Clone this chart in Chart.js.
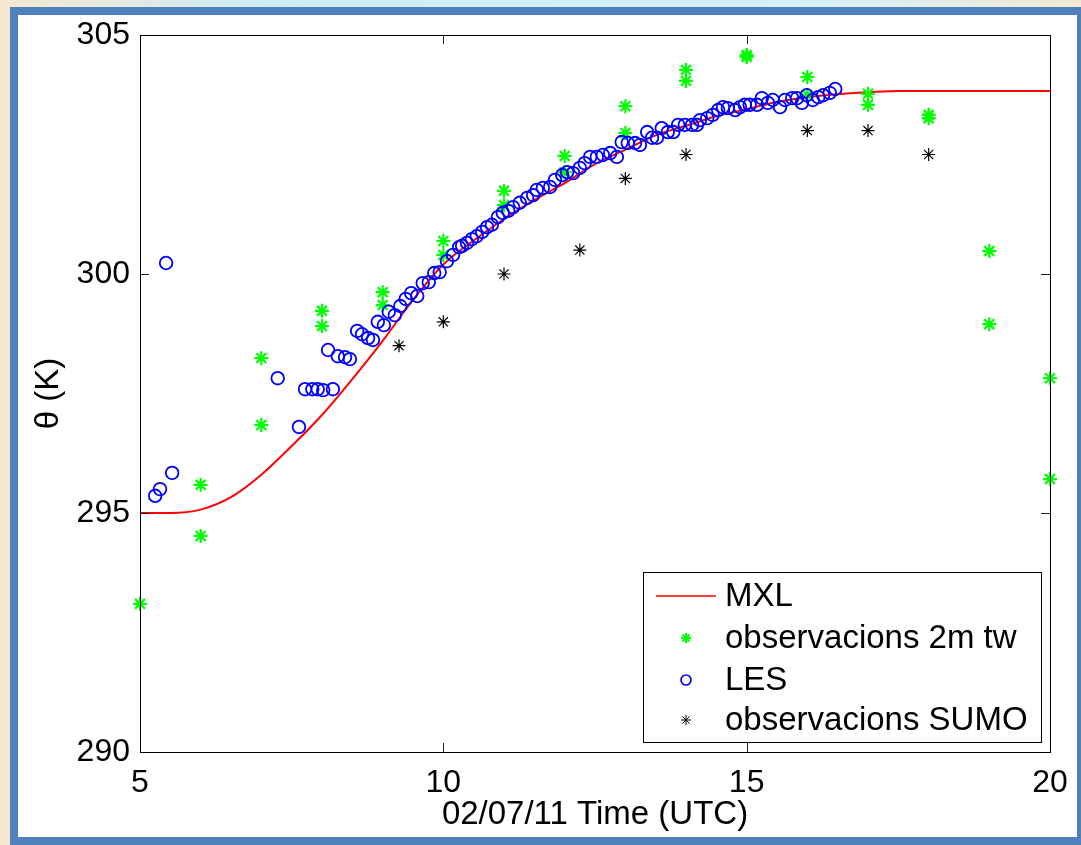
<!DOCTYPE html>
<html>
<head>
<meta charset="utf-8">
<script src="https://cdn.jsdelivr.net/npm/chart.js@4/dist/chart.umd.min.js"></script>
<style>
html, body { margin: 0; padding: 0; }
body {
  width: 1081px; height: 845px; overflow: hidden; position: relative;
  background: linear-gradient(90deg, #f6e6cf 0%, #cdeef8 25%, #d6f1f8 75%, #f2e9d3 100%);
}
#frame {
  position: absolute; left: 10px; top: 7px; width: 1059px; height: 822px;
  background: #fff; border: 8px solid #4f81bd; border-right-width: 4px;
}
#graph { position: absolute; left: 0; top: 0; }
</style>
</head>
<body>
<div id="frame"></div>
<canvas id="graph" width="1081" height="845"></canvas>
<script>
'use strict';

// MXL model (red line)
const mxlTime  = [5, 5.5, 6, 6.5, 7, 7.5, 8, 8.5, 9, 9.5, 10, 10.5, 11, 11.5, 12, 12.5, 13, 13.5, 14, 14.5, 15, 15.5, 16, 16.5, 17, 17.5, 18, 19, 20];
const mxlTheta = [295.0, 295.0, 295.07, 295.33, 295.8, 296.4, 297.05, 297.8, 298.6, 299.46, 300.2, 300.7, 301.15, 301.55, 301.9, 302.3, 302.6, 302.9, 303.1, 303.3, 303.45, 303.6, 303.7, 303.76, 303.8, 303.83, 303.83, 303.83, 303.83];

// observacions 2m tw (green stars)
const obsTime  = [5, 6, 6, 7, 7, 8, 8, 9, 9, 10, 10, 11, 11, 12, 12, 13, 13, 14, 14, 15, 15, 16, 16, 17, 17, 18, 18, 19, 19, 20, 20];
const obsTheta = [293.1, 295.59, 294.52, 298.24, 296.84, 299.23, 298.91, 299.62, 299.35, 300.69, 300.4, 301.74, 301.44, 302.47, 302.13, 303.51, 302.95, 304.27, 304.04, 304.58, 304.54, 304.12, 303.74, 303.77, 303.54, 303.33, 303.26, 300.48, 298.95, 297.82, 295.71];

// LES (blue circles)
const lesTime  = [5.25, 5.33, 5.43, 5.53, 7.27, 7.62, 7.72, 7.84, 7.93, 8.02, 8.10, 8.18, 8.26, 8.38, 8.46, 8.58, 8.66, 8.76, 8.84, 8.92, 9.02, 9.10, 9.20, 9.29, 9.38, 9.47, 9.57, 9.66, 9.76, 9.85, 9.94,
  10.06, 10.16, 10.26, 10.31, 10.39, 10.47, 10.55, 10.64, 10.72, 10.80, 10.90, 10.98, 11.07, 11.15, 11.26, 11.38, 11.48, 11.54, 11.64, 11.76, 11.84, 11.96,
  12.04, 12.14, 12.25, 12.33, 12.42, 12.53, 12.63, 12.75, 12.86, 12.94, 13.04, 13.16, 13.24, 13.36, 13.44, 13.52, 13.60, 13.70, 13.79, 13.87, 13.98,
  14.10, 14.18, 14.23, 14.35, 14.44, 14.53, 14.61, 14.69, 14.81, 14.89, 14.97, 15.05, 15.17, 15.25, 15.35, 15.43, 15.55, 15.63, 15.75, 15.83, 15.91, 15.99,
  16.09, 16.18, 16.26, 16.37, 16.46];
const lesTheta = [295.36, 295.50, 300.23, 295.84, 297.82, 296.80, 297.59, 297.59, 297.59, 297.57, 298.41, 297.59, 298.28, 298.26, 298.22, 298.81, 298.74, 298.66, 298.62, 299.00, 298.93, 299.21, 299.14, 299.33, 299.48, 299.60, 299.54, 299.81, 299.83, 300.02, 300.04,
  300.27, 300.40, 300.56, 300.59, 300.65, 300.73, 300.79, 300.88, 300.98, 301.03, 301.19, 301.28, 301.32, 301.40, 301.49, 301.59, 301.65, 301.76, 301.80, 301.82, 301.97, 302.07,
  302.13, 302.11, 302.22, 302.32, 302.45, 302.45, 302.49, 302.53, 302.45, 302.76, 302.74, 302.74, 302.70, 302.97, 302.85, 302.85, 303.05, 302.97, 302.97, 303.12, 303.12,
  303.12, 303.12, 303.22, 303.26, 303.33, 303.43, 303.49, 303.47, 303.43, 303.49, 303.54, 303.54, 303.54, 303.68, 303.58, 303.64, 303.49, 303.64, 303.68, 303.68, 303.58, 303.74,
  303.64, 303.70, 303.74, 303.79, 303.87];

// observacions SUMO (black stars)
const sumoTime  = [9.27, 10, 11, 12.25, 13, 14, 16, 17, 18];
const sumoTheta = [298.5, 299.0, 300.0, 300.5, 302.0, 302.5, 303.0, 303.0, 302.5];

const xTicks = [5, 10, 15, 20];
const yTicks = [290, 295, 300, 305];
const labels = ['MXL', 'observacions 2m tw', 'LES', 'observacions SUMO'];

const FONT = '"Liberation Sans", Arial, Helvetica, sans-serif';

function pts(xs, ys) {
    return xs.map((x, i) => ({ x: x, y: ys[i] }));
}

// box with inward ticks, like matlab axes
const boxPlugin = {
    id: 'box',
    afterDatasetsDraw(chart) {
        const ctx = chart.ctx;
        const a = chart.chartArea;
        const xs = chart.scales.x, ys = chart.scales.y;
        ctx.save();
        ctx.strokeStyle = '#222';
        ctx.lineWidth = 1;
        ctx.beginPath();
        xTicks.forEach(v => {
            const px = Math.round(xs.getPixelForValue(v)) + 0.5;
            ctx.moveTo(px, a.bottom); ctx.lineTo(px, a.bottom - 9);
            ctx.moveTo(px, a.top); ctx.lineTo(px, a.top + 9);
        });
        yTicks.forEach(v => {
            const py = Math.round(ys.getPixelForValue(v)) + 0.5;
            ctx.moveTo(a.left, py); ctx.lineTo(a.left + 9, py);
            ctx.moveTo(a.right, py); ctx.lineTo(a.right - 9, py);
        });
        ctx.stroke();
        ctx.strokeStyle = '#000';
        ctx.strokeRect(Math.round(a.left) + 0.5, Math.round(a.top) + 0.5, Math.round(a.right - a.left), Math.round(a.bottom - a.top));
        ctx.restore();
    }
};

const legendPlugin = {
    id: 'boxLegend',
    afterDraw(chart) {
        const ctx = chart.ctx;
        const bx = 643, by = 572, bw = 398, bh = 170;
        ctx.save();
        ctx.fillStyle = '#fff';
        ctx.fillRect(bx, by, bw, bh);
        ctx.strokeStyle = '#000';
        ctx.lineWidth = 1;
        ctx.strokeRect(bx + 0.5, by + 0.5, bw, bh);
        const rows = [596, 638, 680, 720];
        const order = [3, 2, 1, 0]; // dataset index for each legend row
        ctx.font = '33px ' + FONT;
        ctx.textBaseline = 'middle';
        ctx.textAlign = 'left';
        rows.forEach((ry, i) => {
            const ds = chart.data.datasets[order[i]];
            if (ds.showLine) {
                ctx.strokeStyle = ds.borderColor;
                ctx.lineWidth = 1.5;
                ctx.beginPath();
                ctx.moveTo(656, ry); ctx.lineTo(716, ry);
                ctx.stroke();
            } else {
                ctx.strokeStyle = ds.borderColor;
                ctx.fillStyle = 'rgba(0,0,0,0)';
                ctx.lineWidth = ds.legendBorder;
                Chart.helpers.drawPoint(ctx, {
                    pointStyle: ds.pointStyle, radius: ds.legendRadius, rotation: 0, borderWidth: ds.legendBorder
                }, 686, ry);
            }
            ctx.fillStyle = '#000';
            ctx.fillText(ds.label, 725, ry + 1);
        });
        ctx.restore();
    }
};

window.onload = function () {
    const context = document.querySelector('#graph').getContext('2d');
    new Chart(context, {
        type: 'scatter',
        data: {
            datasets: [{
                label: labels[3],
                data: pts(sumoTime, sumoTheta),
                pointStyle: 'star',
                pointRadius: 6.5,
                pointBorderWidth: 1.2,
                borderColor: '#000',
                backgroundColor: '#000',
                legendRadius: 5, legendBorder: 1,
                clip: false,
                order: 1
            }, {
                label: labels[2],
                data: pts(lesTime, lesTheta),
                pointStyle: 'circle',
                pointRadius: 6.3,
                pointBorderWidth: 1.8,
                borderColor: '#0000ff',
                backgroundColor: 'rgba(0,0,0,0)',
                legendRadius: 5, legendBorder: 1.7,
                clip: false,
                order: 2
            }, {
                label: labels[1],
                data: pts(obsTime, obsTheta),
                pointStyle: 'star',
                pointRadius: 7,
                pointBorderWidth: 2.2,
                borderColor: '#00ff00',
                backgroundColor: '#00ff00',
                legendRadius: 5, legendBorder: 2,
                clip: false,
                order: 3
            }, {
                label: labels[0],
                data: pts(mxlTime, mxlTheta),
                showLine: true,
                pointRadius: 0,
                borderColor: '#ff0000',
                borderWidth: 2,
                cubicInterpolationMode: 'monotone',
                order: 4
            }]
        },
        options: {
            responsive: false,
            animation: false,
            events: [],
            layout: { padding: { top: 35, right: 31, left: 0, bottom: 0 } },
            plugins: { legend: { display: false }, tooltip: { enabled: false } },
            scales: {
                x: {
                    type: 'linear', min: 5, max: 20,
                    afterBuildTicks: s => { s.ticks = xTicks.map(v => ({ value: v })); },
                    ticks: { color: '#000', font: { family: FONT, size: 32 }, padding: 4, maxRotation: 0 },
                    grid: { display: false },
                    border: { display: false },
                    title: { display: true, text: '02/07/11 Time (UTC)', color: '#000', font: { family: FONT, size: 33 }, padding: { top: 0, bottom: 10 } },
                    afterFit: s => { s.height = 93; s.paddingLeft = 0; s.paddingRight = 0; }
                },
                y: {
                    type: 'linear', min: 290, max: 305,
                    afterBuildTicks: s => { s.ticks = yTicks.map(v => ({ value: v })); },
                    ticks: { color: '#000', font: { family: FONT, size: 32 }, padding: 2 },
                    grid: { display: false },
                    border: { display: false },
                    title: { display: true, text: 'θ (K)', color: '#000', font: { family: FONT, size: 33 }, padding: { top: 29, bottom: 0 } },
                    afterFit: s => { s.width = 140; s.paddingTop = 0; s.paddingBottom = 0; }
                }
            }
        },
        plugins: [boxPlugin, legendPlugin]
    });
};
</script>
</body>
</html>
